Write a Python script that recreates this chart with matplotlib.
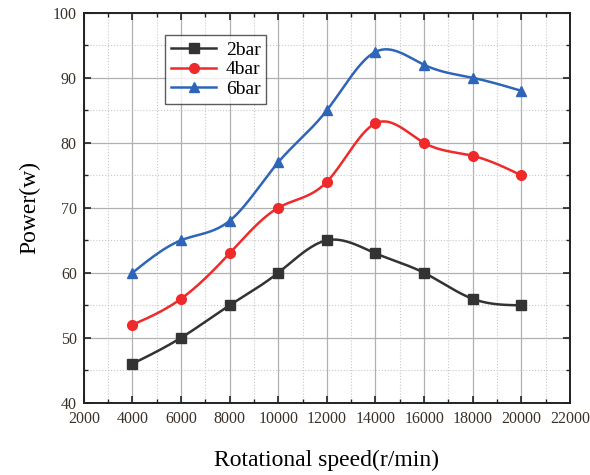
import matplotlib
matplotlib.use('Agg')
import matplotlib.pyplot as plt
from matplotlib.ticker import MultipleLocator
import numpy as np

# data
speed = [4000, 6000, 8000, 10000, 12000, 14000, 16000, 18000, 20000]
p_2bar = [46, 50, 55, 60, 65, 63, 60, 56, 55]
p_4bar = [52, 56, 63, 70, 74, 83, 80, 78, 75]
p_6bar = [60, 65, 68, 77, 85, 94, 92, 90, 88]
labels = ['2bar', '4bar', '6bar']


def spline(x, y, n=300):
    # natural cubic spline, same idea as Origin's smoothed line
    x = np.asarray(x, float)
    y = np.asarray(y, float)
    k = len(x)
    h = np.diff(x)
    A = np.zeros((k, k))
    b = np.zeros(k)
    A[0, 0] = A[-1, -1] = 1
    for i in range(1, k - 1):
        A[i, i - 1] = h[i - 1]
        A[i, i] = 2 * (h[i - 1] + h[i])
        A[i, i + 1] = h[i]
        b[i] = 6 * ((y[i + 1] - y[i]) / h[i] - (y[i] - y[i - 1]) / h[i - 1])
    m = np.linalg.solve(A, b)
    xs = np.linspace(x[0], x[-1], n)
    idx = np.clip(np.searchsorted(x, xs) - 1, 0, k - 2)
    x0, x1 = x[idx], x[idx + 1]
    hh = x1 - x0
    t0 = x1 - xs
    t1 = xs - x0
    ys = (m[idx] * t0**3 / (6 * hh) + m[idx + 1] * t1**3 / (6 * hh)
          + (y[idx] / hh - m[idx] * hh / 6) * t0
          + (y[idx + 1] / hh - m[idx + 1] * hh / 6) * t1)
    return xs, ys


plt.rcParams['font.family'] = ['Liberation Serif', 'DejaVu Serif']

fig = plt.figure(figsize=(5.9, 4.75), dpi=100)
ax = fig.add_axes([0.142, 0.152, 0.824, 0.821])

styles = [('#333333', 's'), ('#ee2a2a', 'o'), ('#2e65b8', '^')]
for vals, lab, (c, mk) in zip([p_2bar, p_4bar, p_6bar], labels, styles):
    xs, ys = spline(speed, vals)
    ax.plot(xs, ys, color=c, lw=1.8, zorder=3)
    ax.plot(speed, vals, ls='none', marker=mk, color=c, ms=7, zorder=4)
    ax.plot([], [], color=c, lw=1.8, marker=mk, ms=7, label=lab)

ax.set_xlim(2000, 22000)
ax.set_ylim(40, 100)
ax.xaxis.set_major_locator(MultipleLocator(2000))
ax.xaxis.set_minor_locator(MultipleLocator(1000))
ax.yaxis.set_major_locator(MultipleLocator(10))
ax.yaxis.set_minor_locator(MultipleLocator(5))

ax.grid(which='major', color='#b0b0b0', lw=0.9, ls='-')
ax.grid(which='minor', color='#c8c8c8', lw=0.8, ls=':')
ax.set_axisbelow(True)

ax.tick_params(which='both', direction='in', top=True, right=True,
               labelsize=11.5, colors='#222222')
ax.tick_params(which='major', length=5, width=1.2)
ax.tick_params(which='minor', length=3, width=1)
ax.tick_params(axis='x', which='major', pad=6)
ax.tick_params(axis='y', which='major', pad=5)
for t in ax.get_xticklabels() + ax.get_yticklabels():
    t.set_color('#3a3128')
for s in ax.spines.values():
    s.set_linewidth(1.4)
    s.set_color('#222222')

ax.set_xlabel('Rotational speed(r/min)', fontsize=17, labelpad=16)
ax.set_ylabel('Power(w)', fontsize=17, labelpad=9)

leg = ax.legend(loc='upper left', bbox_to_anchor=(0.168, 0.942), fontsize=14,
                frameon=True, fancybox=False, edgecolor='#333333',
                handlelength=2.3, borderpad=0.3, labelspacing=0.1,
                handletextpad=0.5, borderaxespad=0)
leg.get_frame().set_linewidth(1.0)

fig.savefig('out.png', dpi=100)
